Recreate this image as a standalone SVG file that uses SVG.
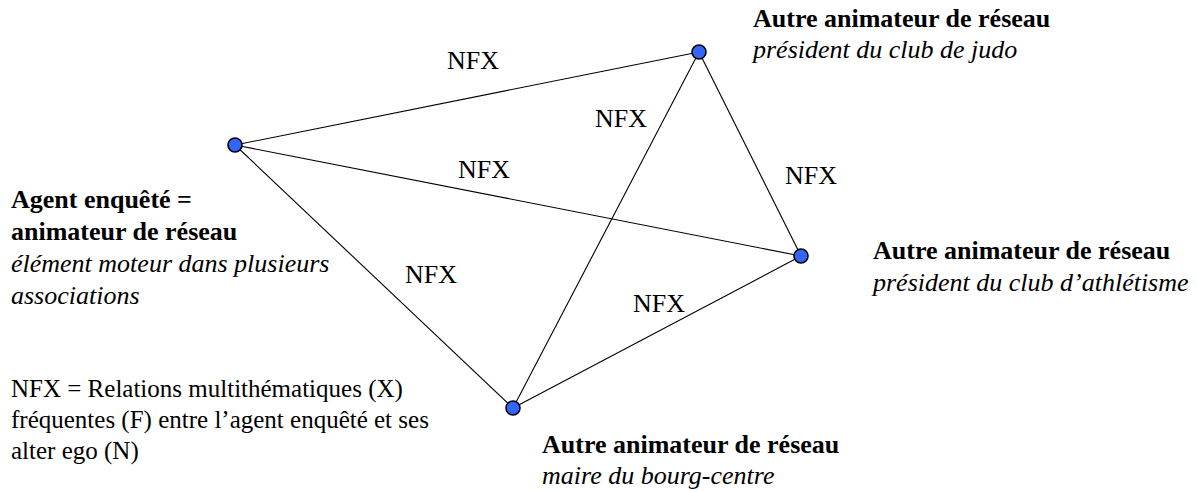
<svg xmlns="http://www.w3.org/2000/svg" width="1197" height="491" viewBox="0 0 1197 491">
<style>
text{font-family:"Liberation Serif","Times New Roman",serif;font-size:26px;fill:#000}
.b{font-weight:bold}
.i{font-style:italic}
.leg{font-size:25px}
.edge{stroke:#000;stroke-width:1.1;fill:none}
.node{fill:#3366ff;stroke:#000;stroke-width:1.6}
</style>
<rect width="1197" height="491" fill="#fff"/>
<g id="connectors">
<line class="edge" x1="235" y1="145" x2="699" y2="52"/>
<line class="edge" x1="235" y1="145" x2="801" y2="256"/>
<line class="edge" x1="235" y1="145" x2="513" y2="408"/>
<line class="edge" x1="699" y1="52" x2="801" y2="256"/>
<line class="edge" x1="699" y1="52" x2="513" y2="408"/>
<line class="edge" x1="513" y1="408" x2="801" y2="256"/>
<text x="447" y="69">NFX</text>
<text x="595" y="127">NFX</text>
<text x="458" y="178">NFX</text>
<text x="785" y="184">NFX</text>
<text x="405" y="283">NFX</text>
<text x="633" y="312">NFX</text>
</g>
<g id="node-agent">
<circle class="node" cx="235" cy="145" r="7"/>
<text x="11" y="208" class="b">Agent enquêté =</text>
<text x="11" y="240" class="b">animateur de réseau</text>
<text x="11" y="272" class="i">élément moteur dans plusieurs</text>
<text x="11" y="304" class="i">associations</text>
</g>
<g id="node-judo">
<circle class="node" cx="699" cy="52" r="7"/>
<text x="753" y="27" class="b">Autre animateur de réseau</text>
<text x="753" y="58" class="i">président du club de judo</text>
</g>
<g id="node-athletisme">
<circle class="node" cx="801" cy="256" r="7"/>
<text x="873" y="259" class="b">Autre animateur de réseau</text>
<text x="873" y="291" class="i">président du club d’athlétisme</text>
</g>
<g id="node-maire">
<circle class="node" cx="513" cy="408" r="7"/>
<text x="542" y="453" class="b">Autre animateur de réseau</text>
<text x="542" y="484" class="i">maire du bourg-centre</text>
</g>
<g id="legend">
<text x="11" y="397" class="leg">NFX = Relations multithématiques (X)</text>
<text x="11" y="428" class="leg">fréquentes (F) entre l’agent enquêté et ses</text>
<text x="11" y="459" class="leg">alter ego (N)</text>
</g>
</svg>
